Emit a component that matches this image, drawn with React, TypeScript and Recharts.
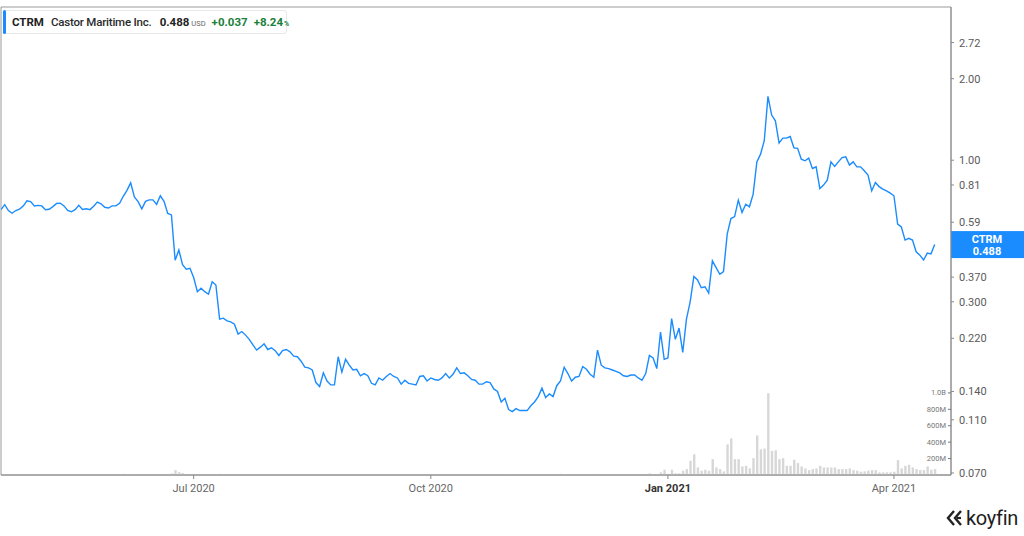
import React from "react";
import { Bar, ComposedChart, Line, ReferenceArea, ReferenceLine, XAxis, YAxis } from "recharts";

const FONT = "Roboto, 'Noto Sans', sans-serif";

// daily closes, one per trading day (Apr 2020 - Apr 2021)
const prices = [
  0.657, 0.685, 0.652, 0.637, 0.652, 0.660, 0.677, 0.708, 0.703, 0.678,
  0.681, 0.678, 0.656, 0.659, 0.674, 0.692, 0.694, 0.678, 0.652, 0.645,
  0.657, 0.682, 0.658, 0.662, 0.657, 0.676, 0.700, 0.690, 0.670, 0.666,
  0.678, 0.678, 0.693, 0.736, 0.774, 0.825, 0.732, 0.703, 0.661, 0.705,
  0.714, 0.714, 0.687, 0.739, 0.705, 0.636, 0.628,
  0.427, 0.466, 0.411, 0.396, 0.399, 0.369, 0.327, 0.337, 0.327, 0.320,
  0.356, 0.346, 0.259, 0.261, 0.255, 0.253, 0.248, 0.228, 0.233, 0.226,
  0.218, 0.208, 0.199, 0.204, 0.210, 0.200, 0.203, 0.198, 0.190, 0.198,
  0.200, 0.196, 0.189, 0.188, 0.181, 0.172, 0.171, 0.168, 0.151, 0.146,
  0.164, 0.153, 0.148, 0.148, 0.188, 0.165,
  0.184, 0.175, 0.168, 0.169, 0.160, 0.163, 0.160, 0.150, 0.148, 0.157,
  0.154, 0.159, 0.163, 0.159, 0.157, 0.149, 0.154, 0.150, 0.149, 0.148,
  0.159, 0.160, 0.153, 0.157, 0.155, 0.154, 0.157, 0.163, 0.157, 0.162,
  0.171, 0.163, 0.164, 0.160, 0.155, 0.154, 0.149, 0.149, 0.152, 0.151,
  0.143, 0.140, 0.128, 0.132, 0.120, 0.118, 0.121, 0.119, 0.119, 0.119, 0.124,
  0.128, 0.134, 0.144, 0.133, 0.137, 0.134, 0.147, 0.153, 0.172, 0.163,
  0.153, 0.158, 0.159, 0.173, 0.169, 0.162, 0.158, 0.199, 0.175, 0.171,
  0.170, 0.168, 0.166, 0.164, 0.160, 0.159, 0.161, 0.161, 0.157, 0.154,
  0.163, 0.190, 0.186, 0.170, 0.232, 0.184, 0.186, 0.260, 0.218, 0.240,
  0.195, 0.259, 0.300, 0.372, 0.361, 0.338, 0.341, 0.323,
  0.425, 0.401, 0.379, 0.388, 0.533, 0.609, 0.619, 0.712, 0.641, 0.688,
  0.673, 0.749, 0.986, 1.053, 1.180, 1.720, 1.468, 1.398, 1.157, 1.207,
  1.207, 1.223, 1.111, 1.106, 1.009, 0.995, 1.018, 0.932, 0.945, 0.786,
  0.809, 0.844, 0.986, 0.948, 0.986, 1.023, 1.029, 0.959, 0.986, 0.945,
  0.945, 0.914, 0.881, 0.771, 0.827, 0.799, 0.782, 0.771, 0.756, 0.739,
  0.581, 0.567, 0.507, 0.515, 0.507, 0.459, 0.446, 0.428, 0.454, 0.451, 0.488,
];

// daily volume, millions of shares
const volumes = [
  4, 3, 5, 3, 2, 4, 3, 6, 4, 3, 3, 2, 4, 3, 3, 5, 4, 3, 2, 3,
  4, 3, 3, 2, 4, 3, 5, 4, 3, 3, 2, 3, 4, 15, 6, 9, 5, 4, 3, 4,
  3, 3, 4, 6, 3, 8, 20, 60, 35, 25,
  8, 5, 4, 3, 6, 4, 3, 3, 5, 15, 6, 4, 3, 3, 5, 4, 3, 2, 3, 4,
  3, 2, 3, 3, 2, 3, 4, 3, 2, 3, 2, 3, 4, 3, 3, 6, 5, 4, 3, 3,
  2, 8, 4, 3, 3, 2, 3, 2, 3, 3, 4, 12, 3, 2, 3, 3, 2, 3, 4, 3,
  2, 3, 3, 4, 3, 2, 3, 2, 3, 3, 4, 3, 3, 5, 3, 3, 2, 3, 3, 4,
  3, 3, 4, 5, 6, 8, 5, 7, 6, 5, 4, 4, 3, 4, 5, 6, 8, 5, 4, 4,
  6, 15, 9, 6, 5, 4, 4, 7, 5, 4, 4, 15, 8, 5, 4, 4, 3, 4, 3, 3,
  4, 3, 4, 5,
  8, 20, 10, 12, 32, 64, 15, 64, 20, 20,
  52, 72, 173, 253, 92, 52, 64, 52, 193, 92,
  72, 44, 373, 446, 193, 193, 104, 112, 80, 205,
  482, 313, 321, 996, 293, 301, 193, 205, 112, 112,
  185, 145, 104, 80, 60, 72, 80, 112, 92, 92,
  92, 92, 72, 72, 72, 80, 60, 52, 40, 44,
  52, 60, 60, 32, 32, 32, 32, 40, 181, 80,
  112, 124, 92, 72, 60, 60, 104, 64, 72,
];

const monthTicks = [52, 116, 180, 241];
const monthLabels = ["Jul 2020", "Oct 2020", "Jan 2021", "Apr 2021"];
const priceTicks = [0.07, 0.11, 0.14, 0.22, 0.3, 0.37, 0.59, 0.81, 1, 2, 2.72];
const priceLabels = ["0.070", "0.110", "0.140", "0.220", "0.300", "0.370", "0.59", "0.81", "1.00", "2.00", "2.72"];
const volumeTicks = [200, 400, 600, 800, 1000];
const volumeLabels = ["200M", "400M", "600M", "800M", "1.0B"];

const ticker = "CTRM";
const company = "Castor Maritime Inc.";
const lastPrice = 0.488;
const change = 0.037;
const changePct = 8.24;

const X_MAX = 256.4;
const P_MIN = 0.0688;
const P_MAX = 3.679;
const BLUE = "#1a8cff";

const data = prices.map((p, i) => ({ i, price: p, volume: volumes[i] }));

const MonthTick = (props: any) => {
    const { x, y, payload } = props;
    const label = monthLabels[monthTicks.indexOf(payload.value)];
    const strong = label.startsWith("Jan");
    return (
        <text x={x} y={y} dy={11} textAnchor="middle" fontSize={11} fontFamily={FONT}
            fill={strong ? "#333" : "#666"} fontWeight={strong ? 700 : 400}>
            {label}
        </text>
    );
};

const PriceTick = (props: any) => {
    const { x, y, payload } = props;
    return (
        <text x={x} y={y} dy={4} textAnchor="start" fontSize={11} fontFamily={FONT} fill="#5a5a5a">
            {priceLabels[priceTicks.indexOf(payload.value)]}
        </text>
    );
};

const VolumeTick = (props: any) => {
    const { x, y, payload } = props;
    return (
        <text x={x} y={y} dy={2.5} textAnchor="end" fontSize={7.5} fontFamily={FONT} fill="#777">
            {volumeLabels[volumeTicks.indexOf(payload.value)]}
        </text>
    );
};

const priceTag = (props: any) => {
    const { viewBox } = props;
    const left = viewBox.x + viewBox.width;
    const cy = viewBox.y;
    return (
        <g>
            <rect x={left} y={cy - 13.5} width={73} height={27} fill={BLUE} />
            <text x={left + 36} y={cy - 2} textAnchor="middle" fill="#fff" fontSize={11} fontWeight={700} fontFamily={FONT}>
                {ticker}
            </text>
            <text x={left + 36} y={cy + 10} textAnchor="middle" fill="#fff" fontSize={11} fontWeight={700} fontFamily={FONT}>
                {lastPrice.toFixed(3)}
            </text>
        </g>
    );
};

const Header = () => (
    <div style={{
        position: "absolute", left: 3, top: 10, width: 282, height: 22,
        border: "1px solid #e8e8e8", borderRadius: 3, background: "#fff",
        display: "flex", alignItems: "center", fontFamily: FONT, whiteSpace: "nowrap",
    }}>
        <div style={{ position: "absolute", left: -1, top: -1, bottom: -1, width: 3, background: BLUE, borderRadius: 2 }} />
        <span style={{ marginLeft: 8, fontSize: 11.5, fontWeight: 700, color: "#222" }}>{ticker}</span>
        <span style={{ marginLeft: 7, fontSize: 11.5, fontWeight: 500, color: "#2b2b2b", letterSpacing: -0.2 }}>{company}</span>
        <span style={{ marginLeft: 8, fontSize: 11.5, fontWeight: 700, color: "#222" }}>{lastPrice.toFixed(3)}</span>
        <span style={{ marginLeft: 2, fontSize: 7.5, color: "#666", marginTop: 3 }}>USD</span>
        <span style={{ marginLeft: 6, fontSize: 11.5, fontWeight: 700, color: "#19803a" }}>+{change.toFixed(3)}</span>
        <span style={{ marginLeft: 6, fontSize: 11.5, fontWeight: 700, color: "#19803a" }}>+{changePct.toFixed(2)}</span>
        <span style={{ marginLeft: 1, fontSize: 7, fontWeight: 700, color: "#19803a", marginTop: 3 }}>%</span>
    </div>
);

const Logo = () => (
    <div style={{ position: "absolute", left: 946, top: 506, display: "flex", alignItems: "center", fontFamily: FONT }}>
        <svg width={18} height={18} viewBox="0 0 18 18">
            <path d="M8 2 L2 9 L8 16" stroke="#222" strokeWidth={2.4} fill="none" />
            <path d="M15 2 L9 9 L15 16" stroke="#222" strokeWidth={2.4} fill="none" />
            <path d="M15 9 L11 9" stroke="#222" strokeWidth={2.2} />
        </svg>
        <span style={{ marginLeft: 2, fontSize: 20, color: "#1d1d1d", letterSpacing: -0.3 }}>koyfin</span>
    </div>
);

const App: React.FC = () => {
    return (
        <div style={{ position: "absolute", left: 0, top: 0, width: 1024, height: 536, background: "#fff" }}>
            <ComposedChart width={1024} height={536} data={data} margin={{ top: 7, right: 0, left: 1, bottom: 31 }}>
                <ReferenceArea yAxisId="price" x1={0} x2={X_MAX} y1={P_MIN} y2={P_MAX}
                    fill="none" stroke="#9a9a9a" strokeWidth={1} ifOverflow="visible" />
                <XAxis dataKey="i" type="number" domain={[0, X_MAX]} allowDataOverflow ticks={monthTicks}
                    tick={<MonthTick />} height={30} tickSize={4} tickLine={{ stroke: "#8a8a8a" }}
                    axisLine={{ stroke: "#8a8a8a" }} interval={0} />
                <YAxis yAxisId="price" orientation="right" scale="log" type="number" domain={[P_MIN, P_MAX]}
                    allowDataOverflow ticks={priceTicks} interval={0} width={73} tickSize={3} tickMargin={5}
                    tick={<PriceTick />} tickLine={{ stroke: "#8a8a8a" }} axisLine={{ stroke: "#8a8a8a" }} />
                <YAxis yAxisId="vol" orientation="right" mirror type="number" domain={[0, 5700]}
                    allowDataOverflow ticks={volumeTicks} interval={0} width={40} tickSize={3} tickMargin={2}
                    tick={<VolumeTick />} tickLine={{ stroke: "#777" }} axisLine={false} />
                <Bar yAxisId="vol" dataKey="volume" fill="#d7d7d7" barSize={2.4} isAnimationActive={false} />
                <Line yAxisId="price" dataKey="price" type="linear" stroke={BLUE} strokeWidth={1.4}
                    dot={false} activeDot={false} isAnimationActive={false} />
                <ReferenceLine yAxisId="price" y={lastPrice} stroke="none" ifOverflow="visible" label={priceTag} />
            </ComposedChart>
            <Header />
            <Logo />
        </div>
    );
};

export default App;
